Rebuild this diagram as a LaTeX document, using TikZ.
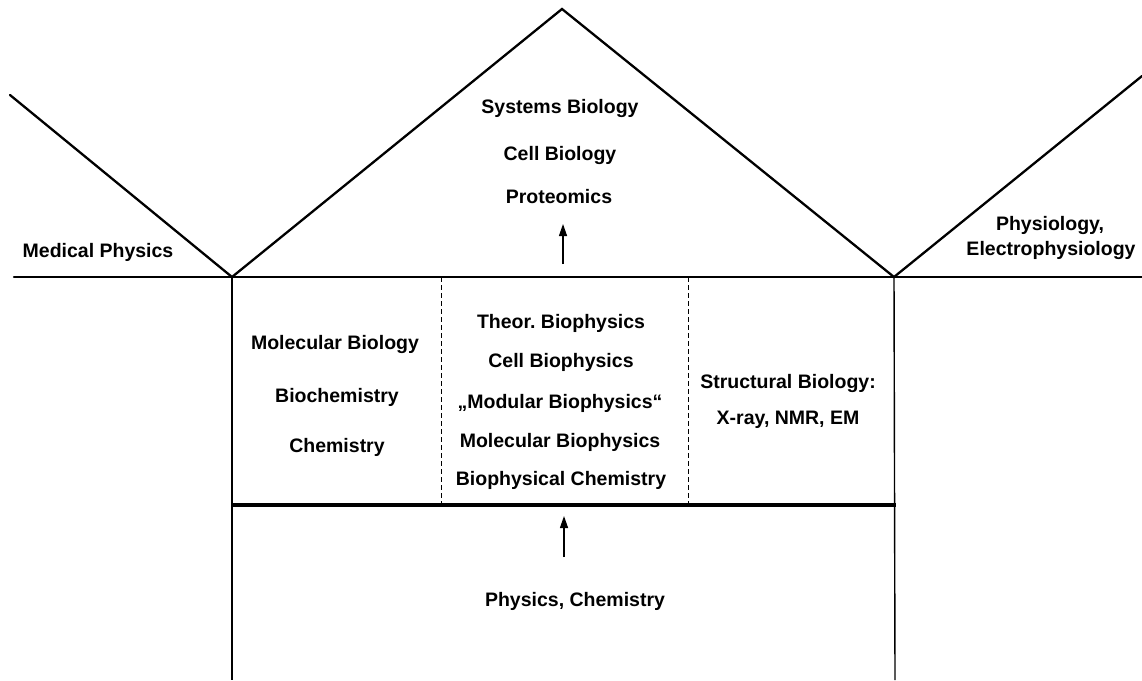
\documentclass[tikz,border=0pt]{standalone}
\usepackage{fontspec}
\setmainfont{Liberation Sans}
\usetikzlibrary{arrows.meta}
\frenchspacing
\begin{document}
\begin{tikzpicture}[x=1pt,y=-1pt,
  lbl/.style={anchor=base,inner sep=0pt,font=\fontsize{19.5}{22}\selectfont\bfseries},
  mainline/.style={line width=2.3pt,line cap=round,line join=miter},
  wall/.style={line width=1.4pt},
  floor/.style={line width=3.2pt},
  divider/.style={line width=0.9pt,dash pattern=on 5pt off 3pt},
  uparrow/.style={line width=1.3pt,-{Triangle[length=12pt,width=8pt]}}]
\useasboundingbox (0,0) rectangle (1142,680);
% key points
\coordinate (hl) at (14,277);
\coordinate (hr) at (1142,277);
\coordinate (lt) at (10,95);
\coordinate (lv) at (232,277);
\coordinate (apex) at (562,9);
\coordinate (rv) at (894,277);
\coordinate (rt) at (1142,76);
\coordinate (lb) at (232,680);
\coordinate (rb) at (895,680);
\coordinate (fl) at (232,505);
\coordinate (fr) at (896,505);
\coordinate (d1t) at (441,277);
\coordinate (d1b) at (441,505);
\coordinate (d2t) at (688,277);
\coordinate (d2b) at (688,505);
\coordinate (a1s) at (563,264);
\coordinate (a1e) at (563,224);
\coordinate (a2s) at (564,557);
\coordinate (a2e) at (564,516);
% lines
\draw[mainline] (hl) -- (hr);
\draw[mainline] (lt) -- (lv) -- (apex) -- (rv) -- (rt);
\draw[wall] (lv) -- (lb);
\draw[wall] (rv) -- (rb);
\draw[floor] (fl) -- (fr);
\draw[divider] (d1t) -- (d1b);
\draw[divider] (d2t) -- (d2b);
\draw[uparrow] (a1s) -- (a1e);
\draw[uparrow] (a2s) -- (a2e);
% texts
\node[lbl] (sys) at (560,113) {Systems Biology};
\node[lbl] (cellbio) at (560,160) {Cell Biology};
\node[lbl] (prot) at (559,203) {Proteomics};
\node[lbl] (med) at (98,257) {Medical Physics};
\node[lbl] (phys) at (1050,230) {Physiology,};
\node[lbl] (ephys) at (1051,255) {Electrophysiology};
\node[lbl] (molbio) at (335,349) {Molecular Biology};
\node[lbl] (biochem) at (337,402) {Biochemistry};
\node[lbl] (chem) at (337,452) {Chemistry};
\node[lbl] (theor) at (561,328) {Theor. Biophysics};
\node[lbl] (cellbp) at (561,367) {Cell Biophysics};
\node[lbl] (modul) at (560,408) {„Modular Biophysics“};
\node[lbl] (molbp) at (560,447) {Molecular Biophysics};
\node[lbl] (bpchem) at (561,485) {Biophysical Chemistry};
\node[lbl] (struct) at (788,388) {Structural Biology:};
\node[lbl] (xray) at (788,424) {X-ray, NMR, EM};
\node[lbl] (physchem) at (575,606) {Physics, Chemistry};
\end{tikzpicture}
\end{document}
